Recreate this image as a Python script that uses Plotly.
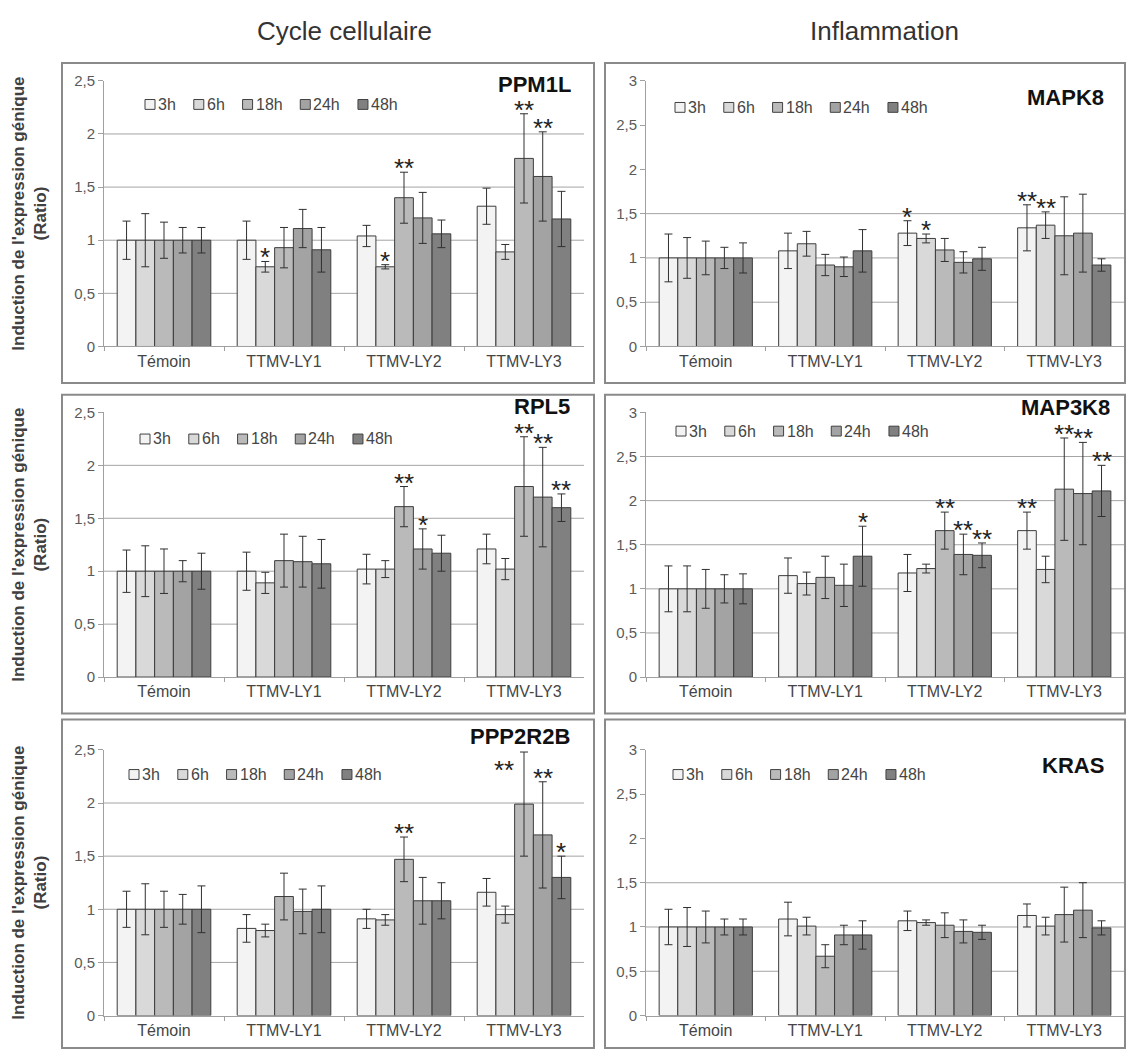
import plotly.graph_objects as go

# ---------------- data ----------------
CATEGORIES = ["Témoin", "TTMV-LY1", "TTMV-LY2", "TTMV-LY3"]
SERIES = ["3h", "6h", "18h", "24h", "48h"]
COLUMN_TITLES = ["Cycle cellulaire", "Inflammation"]
Y_TITLE = "Induction de l'expression génique<br>(Ratio)"

# rows = series (3h, 6h, 18h, 24h, 48h); columns = categories
PPM1L_MEAN = [[1.0, 1.00, 1.04, 1.32],
              [1.0, 0.75, 0.75, 0.89],
              [1.0, 0.93, 1.40, 1.77],
              [1.0, 1.11, 1.21, 1.60],
              [1.0, 0.91, 1.06, 1.20]]
PPM1L_ERR = [[0.18, 0.18, 0.10, 0.17],
             [0.25, 0.05, 0.02, 0.07],
             [0.17, 0.19, 0.24, 0.42],
             [0.12, 0.18, 0.24, 0.42],
             [0.12, 0.21, 0.13, 0.26]]
PPM1L_STARS = [("TTMV-LY1", "6h", "*"), ("TTMV-LY2", "6h", "*"), ("TTMV-LY2", "18h", "**"),
               ("TTMV-LY3", "18h", "**"), ("TTMV-LY3", "24h", "**")]

MAPK8_MEAN = [[1.0, 1.08, 1.28, 1.34],
              [1.0, 1.16, 1.22, 1.37],
              [1.0, 0.92, 1.09, 1.25],
              [1.0, 0.90, 0.95, 1.28],
              [1.0, 1.08, 0.99, 0.92]]
MAPK8_ERR = [[0.27, 0.20, 0.14, 0.26],
             [0.23, 0.14, 0.05, 0.15],
             [0.19, 0.12, 0.13, 0.44],
             [0.12, 0.11, 0.12, 0.44],
             [0.17, 0.24, 0.13, 0.07]]
MAPK8_STARS = [("TTMV-LY2", "3h", "*"), ("TTMV-LY2", "6h", "*"),
               ("TTMV-LY3", "3h", "**"), ("TTMV-LY3", "6h", "**")]

RPL5_MEAN = [[1.0, 1.00, 1.02, 1.21],
             [1.0, 0.89, 1.02, 1.02],
             [1.0, 1.10, 1.61, 1.80],
             [1.0, 1.09, 1.21, 1.70],
             [1.0, 1.07, 1.17, 1.60]]
RPL5_ERR = [[0.20, 0.18, 0.14, 0.14],
            [0.24, 0.10, 0.08, 0.10],
            [0.21, 0.25, 0.19, 0.47],
            [0.10, 0.24, 0.19, 0.47],
            [0.17, 0.23, 0.17, 0.13]]
RPL5_STARS = [("TTMV-LY2", "18h", "**"), ("TTMV-LY2", "24h", "*"), ("TTMV-LY3", "18h", "**"),
              ("TTMV-LY3", "24h", "**"), ("TTMV-LY3", "48h", "**")]

MAP3K8_MEAN = [[1.0, 1.15, 1.18, 1.66],
               [1.0, 1.06, 1.23, 1.22],
               [1.0, 1.13, 1.66, 2.13],
               [1.0, 1.04, 1.39, 2.08],
               [1.0, 1.37, 1.38, 2.11]]
MAP3K8_ERR = [[0.26, 0.20, 0.21, 0.21],
              [0.26, 0.13, 0.05, 0.15],
              [0.22, 0.24, 0.21, 0.58],
              [0.16, 0.24, 0.23, 0.58],
              [0.17, 0.34, 0.14, 0.29]]
MAP3K8_STARS = [("TTMV-LY1", "48h", "*"), ("TTMV-LY2", "18h", "**"), ("TTMV-LY2", "24h", "**"),
                ("TTMV-LY2", "48h", "**"), ("TTMV-LY3", "3h", "**"), ("TTMV-LY3", "18h", "**"),
                ("TTMV-LY3", "24h", "**"), ("TTMV-LY3", "48h", "**")]

PPP2R2B_MEAN = [[1.0, 0.82, 0.91, 1.16],
                [1.0, 0.80, 0.90, 0.95],
                [1.0, 1.12, 1.47, 1.99],
                [1.0, 0.98, 1.08, 1.70],
                [1.0, 1.00, 1.08, 1.30]]
PPP2R2B_ERR = [[0.17, 0.13, 0.09, 0.13],
               [0.24, 0.06, 0.05, 0.08],
               [0.17, 0.22, 0.21, 0.49],
               [0.14, 0.21, 0.22, 0.50],
               [0.22, 0.22, 0.17, 0.20]]
PPP2R2B_STARS = [("TTMV-LY2", "18h", "**"), ("TTMV-LY3", "18h", "**"),
                 ("TTMV-LY3", "24h", "**"), ("TTMV-LY3", "48h", "*")]

KRAS_MEAN = [[1.0, 1.09, 1.07, 1.13],
             [1.0, 1.01, 1.05, 1.01],
             [1.0, 0.67, 1.02, 1.14],
             [1.0, 0.91, 0.95, 1.19],
             [1.0, 0.91, 0.94, 0.99]]
KRAS_ERR = [[0.20, 0.19, 0.11, 0.13],
            [0.22, 0.10, 0.03, 0.10],
            [0.18, 0.13, 0.14, 0.31],
            [0.09, 0.11, 0.13, 0.31],
            [0.09, 0.16, 0.08, 0.08]]
KRAS_STARS = []

# ---------------- style / layout ----------------
COLORS = ["#f3f3f3", "#d9d9d9", "#bababa", "#a3a3a3", "#808080"]
BAR_EDGE = "#3c3c3c"
ERR_COLOR = "#303030"
GRID_COLOR = "#a4a4a4"
AXIS_COLOR = "#a0a0a0"
BOX_COLOR = "#8a8a8a"
FONT = "Liberation Sans, Arial, sans-serif"

W, H = 1126, 1057
COL_PLOT = [(104, 584), (646, 1124)]
COL_BOX = [(62, 594), (605, 1125)]
ROW_PLOT = [(73, 343), (410, 679), (753, 1023)]
ROW_BOX = [(55, 380), (392, 716), (722, 1056)]
BAR_GAP = 0.22
STAR_SIZE = 26
STAR_BOX_H = 16
STAR_LIFT = 1
STAR_NUDGE = {("PPP2R2B", "TTMV-LY3", "18h"): (-20, -22)}
LABEL_BOX_H = 20

PANELS = [
    dict(gene="PPM1L", mean=PPM1L_MEAN, err=PPM1L_ERR, stars=PPM1L_STARS, row=0, col=0,
         ymax=2.5, grid=[0.5, 1, 1.5, 2], legend=(145, 97), label=(573, 76)),
    dict(gene="MAPK8", mean=MAPK8_MEAN, err=MAPK8_ERR, stars=MAPK8_STARS, row=0, col=1,
         ymax=3, grid=[0.5, 1, 1.5], legend=(675, 100), label=(1106, 89)),
    dict(gene="RPL5", mean=RPL5_MEAN, err=RPL5_ERR, stars=RPL5_STARS, row=1, col=0,
         ymax=2.5, grid=[0.5, 1, 1.5, 2], legend=(140, 437), label=(572, 403)),
    dict(gene="MAP3K8", mean=MAP3K8_MEAN, err=MAP3K8_ERR, stars=MAP3K8_STARS, row=1, col=1,
         ymax=3, grid=[0.5, 1, 1.5, 2, 2.5], legend=(676, 429), label=(1112, 404)),
    dict(gene="PPP2R2B", mean=PPP2R2B_MEAN, err=PPP2R2B_ERR, stars=PPP2R2B_STARS, row=2, col=0,
         ymax=2.5, grid=[0.5, 1, 1.5, 2], legend=(129, 778), label=(572, 739)),
    dict(gene="KRAS", mean=KRAS_MEAN, err=KRAS_ERR, stars=KRAS_STARS, row=2, col=1,
         ymax=3, grid=[0.5, 1, 1.5], legend=(673, 778), label=(1106, 768)),
]


def fx(p):
    return p / W


def fy(p):
    return 1 - p / H


def text_w(s, fs):
    return len(s) * 0.556 * fs


fig = go.Figure()
shapes = []
annotations = []
layout_axes = {}

for k, p in enumerate(PANELS, start=1):
    suffix = "" if k == 1 else str(k)
    xa, ya = "x" + suffix, "y" + suffix
    px0, px1 = COL_PLOT[p["col"]]
    py0, py1 = ROW_PLOT[p["row"]]

    for i, s in enumerate(SERIES):
        fig.add_trace(go.Bar(
            x=CATEGORIES, y=p["mean"][i], name=s, xaxis=xa, yaxis=ya, showlegend=False,
            marker=dict(color=COLORS[i], line=dict(color=BAR_EDGE, width=1)),
            error_y=dict(type="data", array=p["err"][i], visible=True,
                         color=ERR_COLOR, thickness=1, width=4),
        ))

    layout_axes["xaxis" + suffix] = dict(
        domain=[fx(px0), fx(px1)], anchor=ya, type="category",
        showgrid=False, showline=True, linecolor=AXIS_COLOR, linewidth=1,
        ticks="outside", tickson="boundaries", ticklen=4, tickcolor=AXIS_COLOR,
        tickfont=dict(size=16, color="#454545", family=FONT), fixedrange=True,
    )
    layout_axes["yaxis" + suffix] = dict(
        domain=[fy(py1), fy(py0)], anchor=xa, range=[0, p["ymax"]],
        tick0=0, dtick=0.5, showgrid=False, zeroline=False,
        showline=True, linecolor=AXIS_COLOR, linewidth=1,
        ticks="outside", ticklen=5, tickcolor=AXIS_COLOR,
        tickfont=dict(size=15, color="#5a5a5a", family=FONT), fixedrange=True,
    )

    # horizontal grid lines
    for v in p["grid"]:
        shapes.append(dict(type="line", xref=xa + " domain", yref=ya, x0=0, x1=1, y0=v, y1=v,
                           line=dict(color=GRID_COLOR, width=1), layer="below"))

    # panel frame
    bx0, bx1 = COL_BOX[p["col"]]
    by0, by1 = ROW_BOX[p["row"]]
    shapes.append(dict(type="rect", xref="paper", yref="paper",
                       x0=fx(bx0), x1=fx(bx1), y0=fy(by1), y1=fy(by0),
                       line=dict(color=BOX_COLOR, width=2), fillcolor="rgba(0,0,0,0)"))

    # gene label
    lx, ly = p["label"]
    annotations.append(dict(text=p["gene"], xref="paper", yref="paper", x=fx(lx), y=fy(ly),
                            xanchor="right", yanchor="middle", valign="middle",
                            height=LABEL_BOX_H, showarrow=False,
                            font=dict(size=22, color="#111111", family=FONT, weight="bold")))

    # legend (squares + text)
    lgx, lgy = p["legend"]
    cx = lgx
    for i, s in enumerate(SERIES):
        shapes.append(dict(type="rect", xref="paper", yref="paper",
                           x0=fx(cx), x1=fx(cx + 10), y0=fy(lgy + 5), y1=fy(lgy - 5),
                           fillcolor=COLORS[i], line=dict(color="#404040", width=1)))
        annotations.append(dict(text=s, xref="paper", yref="paper", x=fx(cx + 11), y=fy(lgy),
                                xanchor="left", yanchor="middle", showarrow=False,
                                font=dict(size=16, color="#454545", family=FONT)))
        cx += 10 + 3 + text_w(s, 16) + 18

    # significance stars
    bw = (px1 - px0) / len(CATEGORIES) * (1 - BAR_GAP) / len(SERIES)
    for cat, s, txt in p["stars"]:
        ci, si = CATEGORIES.index(cat), SERIES.index(s)
        top = p["mean"][si][ci] + p["err"][si][ci]
        dx, dy = STAR_NUDGE.get((p["gene"], cat, s), (0, 0))
        annotations.append(dict(text=txt, xref=xa, yref=ya, x=cat, y=top,
                                xanchor="center", yanchor="bottom", valign="top",
                                height=STAR_BOX_H, showarrow=False,
                                xshift=(si - 2) * bw + dx, yshift=STAR_LIFT + dy,
                                font=dict(size=STAR_SIZE, color="#222222", family=FONT)))

# column titles
for c, title in enumerate(COLUMN_TITLES):
    x0, x1 = COL_PLOT[c]
    annotations.append(dict(text=title, xref="paper", yref="paper", x=fx((x0 + x1) / 2), y=fy(22),
                            xanchor="center", yanchor="middle", showarrow=False,
                            font=dict(size=26, color="#333333", family=FONT)))

# y-axis titles (left column only)
for r in range(3):
    y0, y1 = ROW_PLOT[r]
    annotations.append(dict(text=Y_TITLE, xref="paper", yref="paper", x=fx(30), y=fy((y0 + y1) / 2),
                            xanchor="center", yanchor="middle", showarrow=False, textangle=-90,
                            font=dict(size=17, color="#404040", family=FONT, weight="bold")))

fig.update_layout(
    width=W, height=H, margin=dict(l=0, r=0, t=0, b=0),
    paper_bgcolor="white", plot_bgcolor="white",
    font=dict(family=FONT), separators=", ",
    barmode="group", bargap=BAR_GAP, bargroupgap=0,
    showlegend=False, shapes=shapes, annotations=annotations,
    **layout_axes,
)

fig.write_html("out.html", config={"displayModeBar": False},
               post_script="document.body.style.margin='0';document.body.style.overflow='hidden';")
